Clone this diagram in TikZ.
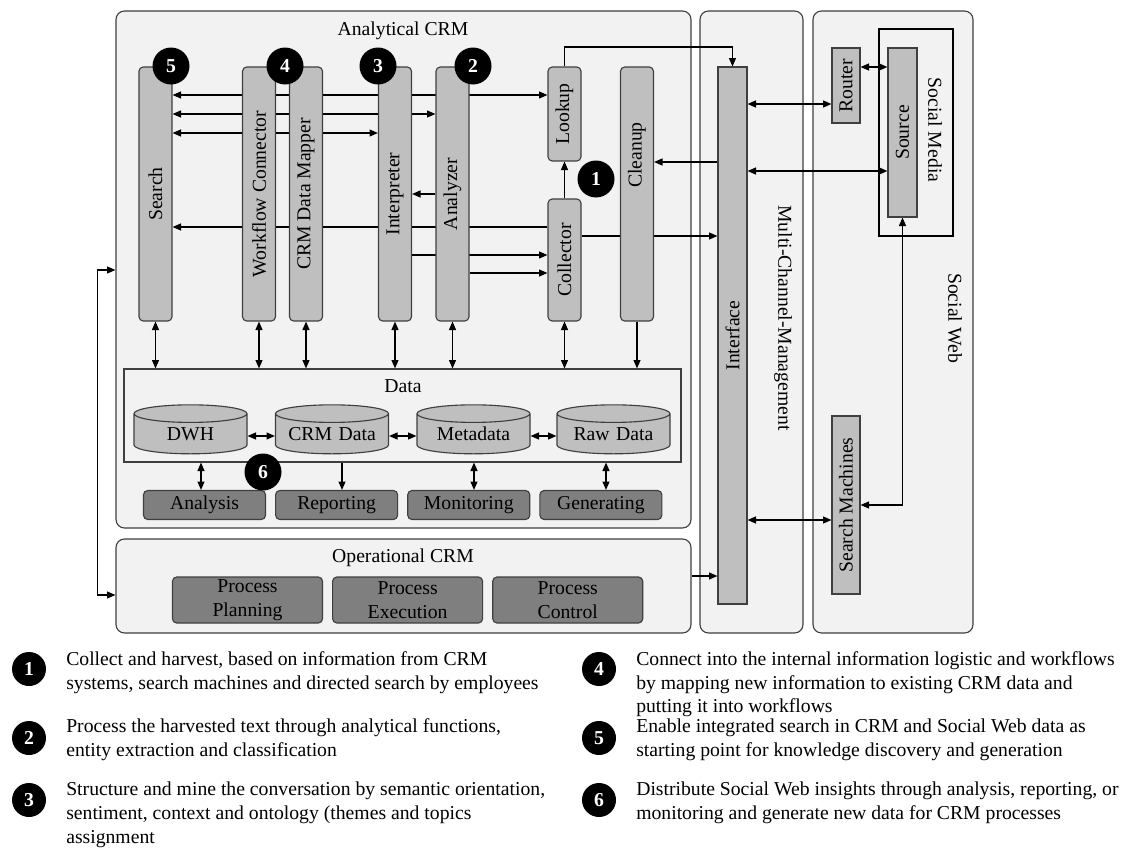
\documentclass[tikz,border=0pt]{standalone}
\usepackage{fontspec}
\setmainfont{Liberation Serif}
\usepackage{graphicx}
\usetikzlibrary{arrows.meta, positioning, shapes.geometric}
\definecolor{panelgray}{HTML}{F2F2F2}
\definecolor{bargray}{HTML}{BFBFBF}
\definecolor{boxgray}{HTML}{7F7F7F}
\definecolor{linegray}{HTML}{3F3F3F}
\pgfdeclarelayer{bg}
\pgfdeclarelayer{wires}
\pgfsetlayers{bg,wires,main}
\newcommand{\px}{0.025cm}
\newcommand{\up}[1]{\rotatebox{90}{#1}}
\newcommand{\down}[1]{\rotatebox{-90}{#1}}
\tikzset{
    >={Triangle[length=6pt,width=5pt]},
    every node/.style={font=\fontsize{14}{17}\selectfont},
    panel/.style={draw=linegray, fill=panelgray, line width=0.8pt, rounded corners=6pt, inner sep=0pt},
    bar/.style={draw=linegray, fill=bargray, line width=0.8pt, rounded corners=3pt, inner sep=0pt, minimum width=33*\px},
    plainbar/.style={draw=linegray, fill=bargray, line width=0.8pt, inner sep=0pt, minimum width=29*\px},
    outbox/.style={draw=linegray, fill=boxgray, line width=0.8pt, rounded corners=3pt, inner sep=0pt, minimum width=122*\px, minimum height=29*\px},
    procbox/.style={outbox, align=center, minimum width=150*\px, minimum height=46*\px},
    store/.style={cylinder, shape border rotate=90, aspect=0.2, draw=linegray, fill=bargray, line width=0.8pt, inner sep=0pt, text width=2.2cm, align=center, minimum width=113*\px, minimum height=49*\px},
    badge/.style={circle, fill=black, text=white, font=\fontsize{14}{17}\selectfont\bfseries, minimum size=37*\px, inner sep=0pt},
    wire/.style={line width=0.8pt},
    note/.style={anchor=north west, align=left, inner sep=0pt},
}

\begin{document}
\begin{tikzpicture}[x=\px, y=-\px]
\useasboundingbox (0,0) rectangle (1127,848);

% containers
\begin{pgfonlayer}{bg}
\node[panel, minimum width=575*\px, minimum height=517*\px] (acrm) at (403.5,269.5) {};
\node at (403,31) {Analytical CRM};
\node[panel, minimum width=575*\px, minimum height=94*\px] (ocrm) at (403.5,586) {};
\node at (403,558) {Operational CRM};
\node[panel, minimum width=103*\px, minimum height=622*\px] (mcm) at (751.5,322) {};
\node at (783,318) {\down{Multi-Channel-Management}};
\node[panel, minimum width=160*\px, minimum height=622*\px] (sweb) at (893,322) {};
\node at (955,318) {\down{Social Web}};
\node[draw=black, line width=0.8pt, inner sep=0pt, minimum width=74*\px, minimum height=207*\px] (smedia) at (916,132.5) {};
\node at (935,130) {\down{Social Media}};
\node[draw=linegray, fill=panelgray, line width=0.8pt, minimum width=557*\px, minimum height=93*\px] (data) at (402.5,415.5) {};
\node at (403,386) {Data};
\end{pgfonlayer}

% analytical bars
\node[bar, minimum height=254*\px] (search) at (155.5,194) {\up{Search}};
\node[bar, minimum height=254*\px] (workflow) at (259,194) {\up{Workflow Connector}};
\node[bar, minimum height=254*\px] (mapper) at (306,194) {\up{CRM Data Mapper}};
\node[bar, minimum height=254*\px] (interp) at (395,194) {\up{Interpreter}};
\node[bar, minimum height=254*\px] (analyzer) at (452.5,194) {\up{Analyzer}};
\node[bar, minimum height=94*\px] (lookup) at (564.5,114) {\up{Lookup}};
\node[bar, minimum height=122*\px] (collector) at (564.5,260) {\up{Collector}};
\node[bar, minimum height=254*\px] (cleanup) at (637,194) {\up{\hspace*{1.95cm}Cleanup}};

\node[badge] (n5) at (171,66) {5};
\node[badge] (n4) at (285,66) {4};
\node[badge] (n3) at (378,66) {3};
\node[badge] (n2) at (473,66) {2};
\node[badge] (n1) at (596,179) {1};

% data stores
\node[store] (dwh) at (190.5,434) {DWH};
\node[store] (crmdata) at (332,434) {CRM Data};
\node[store] (meta) at (473.5,434) {Metadata};
\node[store] (raw) at (613.5,434) {Raw Data};

\node[outbox] (analysis) at (204.5,505) {Analysis};
\node[outbox, right=0.225cm of analysis] (reporting) {Reporting};
\node[outbox, right=0.225cm of reporting] (monitoring) {Monitoring};
\node[outbox, right=0.225cm of monitoring] (generating) {Generating};
\node[badge] (n6) at (263,472) {6};

\node[procbox] (planning) at (247.5,600) {Process\\Planning};
\node[procbox, right=0.225cm of planning] (execution) {Process\\Execution};
\node[procbox, right=0.225cm of execution] (control) {Process\\Control};

% channel and social web
\node[plainbar, minimum height=537*\px] (iface) at (732.5,335.5) {\up{Interface}};
\node[plainbar, minimum width=28*\px, minimum height=75*\px] (router) at (846,85.5) {\up{Router}};
\node[plainbar, minimum height=169*\px] (source) at (902.5,132.5) {\up{Source}};
\node[plainbar, minimum width=28*\px, minimum height=178*\px] (machines) at (846,505) {\up{Search Machines}};

% connectors
\begin{pgfonlayer}{wires}
\draw[wire, <->] (search.east |- 0,95) -- (lookup.west |- 0,95);
\draw[wire, <->] (search.east |- 0,114) -- (analyzer.west |- 0,114);
\draw[wire, <->] (search.east |- 0,133) -- (interp.west |- 0,133);
\draw[wire, ->] (analyzer.west |- 0,194) -- (interp.east |- 0,194);
\draw[wire, ->] (collector.west |- 0,227) -- (search.east |- 0,227);
\draw[wire, ->] (interp.east |- 0,255) -- (collector.west |- 0,255);
\draw[wire, ->] (analyzer.east |- 0,273) -- (collector.west |- 0,273);
\draw[wire, ->] (collector.north) -- (lookup.south);
\draw[wire, ->] (lookup.north) -- (lookup.north |- 0,47) -| (iface.north);
\draw[wire, ->] (iface.west |- 0,162) -- (cleanup.east |- 0,162);
\draw[wire, ->] (collector.east |- 0,236) -- (iface.west |- 0,236);

\foreach \b in {search, workflow, mapper, interp, analyzer, collector}
    \draw[wire, <->] (\b.south) -- (\b |- data.north);
\draw[wire, ->] (cleanup.south) -- (cleanup |- data.north);

\draw[wire, <->] (dwh.east |- 0,436) -- (crmdata.west |- 0,436);
\draw[wire, <->] (crmdata.east |- 0,436) -- (meta.west |- 0,436);
\draw[wire, <->] (meta.east |- 0,436) -- (raw.west |- 0,436);

\draw[wire, <->] (data.south -| 201,0) -- (analysis.north -| 201,0);
\draw[wire, ->] (data.south -| 342,0) -- (reporting.north -| 342,0);
\draw[wire, <->] (data.south -| 474,0) -- (monitoring.north -| 474,0);
\draw[wire, <->] (data.south -| 606,0) -- (generating.north -| 606,0);

\draw[wire, <->] (acrm.west |- 0,270) -- ++(-18,0) |- (ocrm.west |- 0,595);
\draw[wire, ->] (ocrm.east |- 0,576) -- (iface.west |- 0,576);

\draw[wire, <->] (iface.east |- 0,104) -- (router.west |- 0,104);
\draw[wire, <->] (router.east |- 0,67) -- (source.west |- 0,67);
\draw[wire, <->] (iface.east |- 0,171) -- (source.west |- 0,171);
\draw[wire, <->] (source.south) |- (machines.east |- 0,505);
\draw[wire, <->] (iface.east |- 0,520) -- (machines.west |- 0,520);
\end{pgfonlayer}

% legend
\node[badge, minimum size=34*\px] (k1) at (29,669) {1};
\node[badge, minimum size=34*\px] (k2) at (29,738) {2};
\node[badge, minimum size=34*\px] (k3) at (29,800) {3};
\node[badge, minimum size=34*\px] (k4) at (599,669) {4};
\node[badge, minimum size=34*\px] (k5) at (599,738) {5};
\node[badge, minimum size=34*\px] (k6) at (599,800) {6};

\node[note] (t1) at (66,651) {Collect and harvest, based on information from CRM\\systems, search machines and directed search by employees};
\node[note] (t2) at (66,718) {Process the harvested text through analytical functions,\\entity extraction and classification};
\node[note] (t3) at (66,782) {Structure and mine the conversation by semantic orientation,\\sentiment, context and ontology (themes and topics\\assignment};
\node[note] (t4) at (636,651) {Connect into the internal information logistic and workflows\\by mapping new information to existing CRM data and\\putting it into workflows};
\node[note] (t5) at (636,719) {Enable integrated search in CRM and Social Web data as\\starting point for knowledge discovery and generation};
\node[note] (t6) at (636,782) {Distribute Social Web insights through analysis, reporting, or\\monitoring and generate new data for CRM processes};
\end{tikzpicture}
\end{document}
